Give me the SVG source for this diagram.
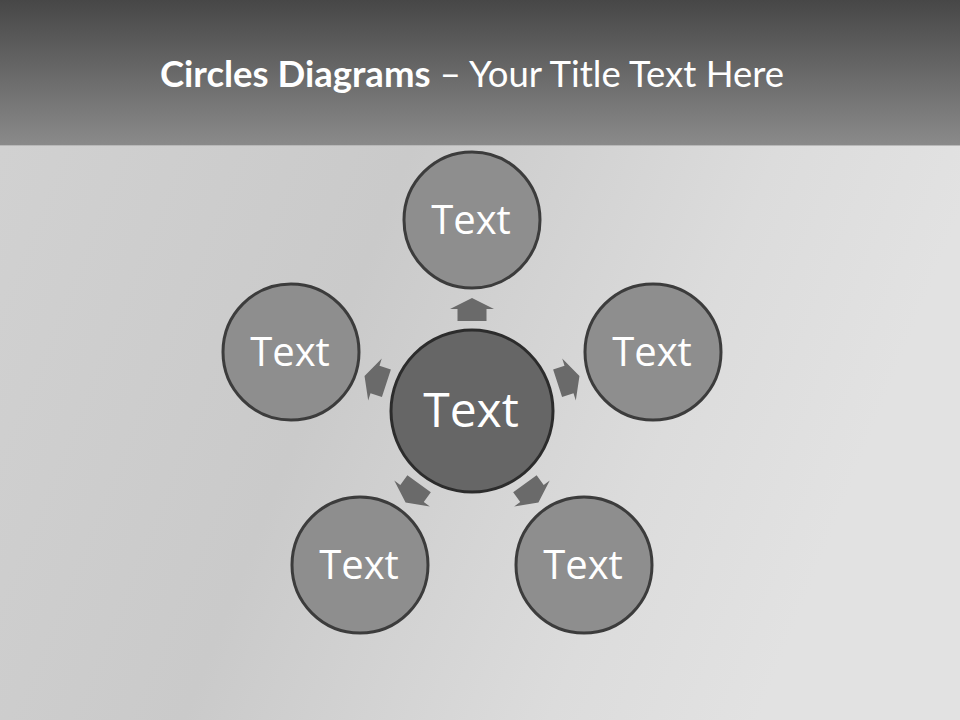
<svg xmlns="http://www.w3.org/2000/svg" width="960" height="720" viewBox="0 0 960 720">
  <defs>
    <linearGradient id="bg" x1="0" y1="0" x2="1" y2="0.3">
      <stop offset="0" stop-color="#d2d2d2"/>
      <stop offset="0.45" stop-color="#cacaca"/>
      <stop offset="0.8" stop-color="#dcdcdc"/>
      <stop offset="1" stop-color="#e2e2e2"/>
    </linearGradient>
    <linearGradient id="hdr" x1="0" y1="0" x2="0" y2="1">
      <stop offset="0" stop-color="#474747"/>
      <stop offset="1" stop-color="#8a8a8a"/>
    </linearGradient>
    <path id="arrow" d="M0,-113 L22,-102 L14.5,-102 L14.5,-90 L-14.5,-90 L-14.5,-102 L-22,-102 Z"/>
    <style>
      .outer { fill: #8e8e8e; stroke: #3c3c3c; stroke-width: 3; }
      .center { fill: #666666; stroke: #2c2c2c; stroke-width: 3; }
      .lbl { font-family: "Open Sans", "DejaVu Sans", sans-serif; fill: #ffffff; text-anchor: middle; }
      .arr { fill: #6a6a6a; }
    </style>
  </defs>
  <rect x="0" y="0" width="960" height="720" fill="url(#bg)"/>
  <rect x="0" y="0" width="960" height="145" fill="url(#hdr)"/>
  <line x1="0" y1="145.5" x2="960" y2="145.5" stroke="#b8b8b8" stroke-width="1"/>
  <text x="472" y="87" font-family="Lato, 'Open Sans', sans-serif" font-size="36.5" fill="#ffffff" text-anchor="middle"><tspan font-weight="bold">Circles Diagrams</tspan> – Your Title Text Here</text>

  <g id="connectors">
    <use href="#arrow" class="arr" transform="translate(472,411)"/>
    <use href="#arrow" class="arr" transform="translate(472,411) rotate(72)"/>
    <use href="#arrow" class="arr" transform="translate(472,411) rotate(144)"/>
    <use href="#arrow" class="arr" transform="translate(472,411) rotate(216)"/>
    <use href="#arrow" class="arr" transform="translate(472,411) rotate(288)"/>
  </g>

  <g id="node-center">
    <circle class="center" cx="472" cy="411" r="81"/>
    <text class="lbl" x="471" y="427" font-size="48">Text</text>
  </g>
  <g id="node-top">
    <circle class="outer" cx="472" cy="220" r="68"/>
    <text class="lbl" x="471" y="234" font-size="40">Text</text>
  </g>
  <g id="node-right">
    <circle class="outer" cx="653" cy="352" r="68"/>
    <text class="lbl" x="652" y="366" font-size="40">Text</text>
  </g>
  <g id="node-bottom-right">
    <circle class="outer" cx="584" cy="565" r="68"/>
    <text class="lbl" x="583" y="579" font-size="40">Text</text>
  </g>
  <g id="node-bottom-left">
    <circle class="outer" cx="360" cy="565" r="68"/>
    <text class="lbl" x="359" y="579" font-size="40">Text</text>
  </g>
  <g id="node-left">
    <circle class="outer" cx="291" cy="352" r="68"/>
    <text class="lbl" x="290" y="366" font-size="40">Text</text>
  </g>
</svg>
